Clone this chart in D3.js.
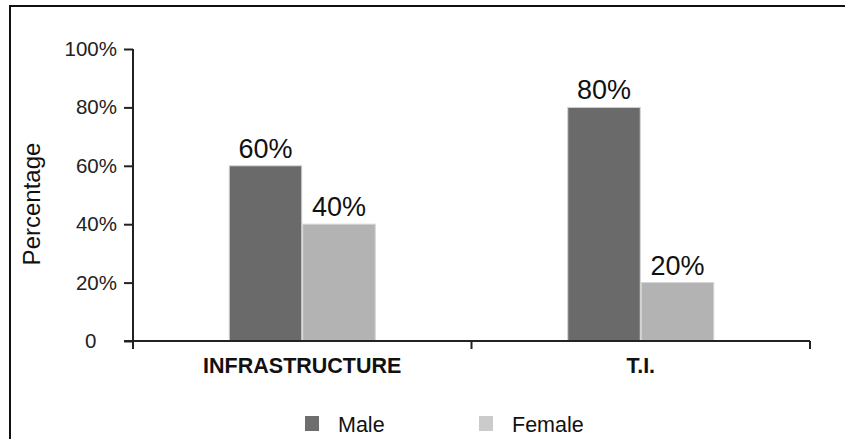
<!DOCTYPE html>
<html>
<head>
<meta charset="utf-8">
<script src="https://cdn.jsdelivr.net/npm/d3@7"></script>
<style>
  html, body { margin: 0; padding: 0; background: #fff; }
  svg { display: block; font-family: "Liberation Sans", Arial, sans-serif; }
</style>
</head>
<body>
<svg id="chart" width="845" height="439"></svg>
<script>
// Share of male and female professionals in each group
const categories = ["INFRASTRUCTURE", "T.I."];
const seriesNames = ["Male", "Female"];
const maleValues = [0.60, 0.80];
const femaleValues = [0.40, 0.20];
const yTicks = [0, 0.2, 0.4, 0.6, 0.8, 1.0];

const barColors = { Male: "#6a6a6a", Female: "#b3b3b3" };
const legendColors = { Male: "#6e6e6e", Female: "#cbcbcb" };

const rows = categories.map((c, i) => ({
  category: c,
  values: [
    { series: "Male", value: maleValues[i] },
    { series: "Female", value: femaleValues[i] }
  ]
}));

const svg = d3.select("#chart");
const W = 845, H = 439;
const plot = { left: 133, right: 810, top: 49, bottom: 341 };

// Outer frame (runs off the right and bottom edges)
svg.append("rect")
  .attr("x", 10).attr("y", 6)
  .attr("width", W + 20).attr("height", H + 20)
  .attr("fill", "none").attr("stroke", "#111").attr("stroke-width", 2);

const x = d3.scaleBand().domain(categories).range([plot.left, plot.right]).paddingInner(0).paddingOuter(0);
const groupWidth = 147;
const xSub = d3.scaleBand().domain(seriesNames).range([0, groupWidth]).padding(0);
const y = d3.scaleLinear().domain([0, 1]).range([plot.bottom, plot.top]);

// Bars
const groups = svg.append("g").selectAll("g").data(rows).join("g")
  .attr("transform", d => `translate(${x(d.category) + (x.bandwidth() - groupWidth) / 2},0)`);

groups.selectAll("rect").data(d => d.values).join("rect")
  .attr("x", d => xSub(d.series) + 0.5)
  .attr("y", d => y(d.value))
  .attr("width", xSub.bandwidth() - 1)
  .attr("height", d => y(0) - y(d.value))
  .attr("fill", d => barColors[d.series])
  .attr("stroke", "#d4d4d4")
  .attr("stroke-width", 1);

// Value labels
groups.selectAll("text").data(d => d.values).join("text")
  .attr("x", d => xSub(d.series) + xSub.bandwidth() / 2)
  .attr("y", d => y(d.value) - 8)
  .attr("text-anchor", "middle")
  .attr("font-size", 27)
  .attr("fill", "#111")
  .text(d => d3.format(".0%")(d.value));

// Y axis
const yAxis = svg.append("g")
  .attr("transform", `translate(${plot.left},0)`)
  .call(d3.axisLeft(y).tickValues(yTicks).tickSize(9).tickPadding(7)
    .tickFormat(d => d === 0 ? "0" : d3.format(".0%")(d)));
yAxis.select(".domain").remove();
yAxis.append("line")
  .attr("x1", 0).attr("x2", 0)
  .attr("y1", plot.top).attr("y2", plot.bottom + 8)
  .attr("stroke", "#222").attr("stroke-width", 2);
yAxis.selectAll(".tick line").attr("stroke", "#222").attr("stroke-width", 2);
yAxis.selectAll(".tick text")
  .attr("font-size", 20.5).attr("fill", "#222")
  .attr("font-family", "Liberation Sans, Arial, sans-serif")
  .attr("dx", d => d === 0 ? "-1em" : 0);

// X axis: baseline, boundary ticks, category labels
const xAxis = svg.append("g").attr("transform", `translate(0,${plot.bottom})`);
xAxis.append("line")
  .attr("x1", plot.left - 9).attr("x2", plot.right)
  .attr("y1", 0).attr("y2", 0)
  .attr("stroke", "#222").attr("stroke-width", 2);
const boundaries = categories.map(c => x(c) + x.step());
xAxis.selectAll("line.b").data(boundaries).join("line")
  .attr("class", "b")
  .attr("x1", d => d).attr("x2", d => d)
  .attr("y1", 0).attr("y2", 8)
  .attr("stroke", "#222").attr("stroke-width", 2);
xAxis.selectAll("text").data(categories).join("text")
  .attr("x", d => x(d) + x.bandwidth() / 2)
  .attr("y", 32)
  .attr("text-anchor", "middle")
  .attr("font-size", 21.5)
  .attr("font-weight", "bold")
  .attr("fill", "#111")
  .text(d => d);

// Y axis title
svg.append("text")
  .attr("transform", "translate(40,204) rotate(-90)")
  .attr("text-anchor", "middle")
  .attr("font-size", 24)
  .attr("fill", "#111")
  .text("Percentage");

// Legend
const legendX = d3.scalePoint().domain(seriesNames).range([305, 479]);
const legend = svg.append("g").selectAll("g").data(seriesNames).join("g")
  .attr("transform", d => `translate(${legendX(d)},416)`);
legend.append("rect")
  .attr("width", 14).attr("height", 15)
  .attr("fill", d => legendColors[d]);
legend.append("text")
  .attr("x", 33).attr("y", 16)
  .attr("font-size", 21.5)
  .attr("fill", "#111")
  .text(d => d);
</script>
</body>
</html>
